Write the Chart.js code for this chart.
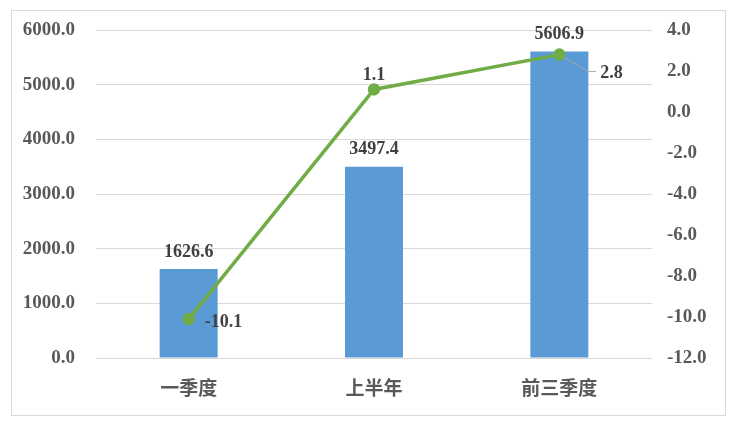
<!DOCTYPE html>
<html>
<head>
<meta charset="utf-8">
<script src="https://cdn.jsdelivr.net/npm/chart.js@4/dist/chart.umd.min.js"></script>
<style>
  html, body { margin: 0; padding: 0; background: #fff; }
  #wrap { width: 739px; height: 427px; position: relative; }
</style>
</head>
<body>
<div id="wrap"><canvas id="c" width="739" height="427"></canvas></div>
<script>
// ------------------
// data
// ------------------
const categories = ["一季度", "上半年", "前三季度"];
const barValues = [1626.6, 3497.4, 5606.9];
const lineValues = [-10.1, 1.1, 2.8];

const serif = "'Liberation Serif', 'Times New Roman', serif";
const cjk = "'Noto Sans CJK SC', sans-serif";

// frame + value labels
const labelPlugin = {
  id: "labels",
  beforeDraw(chart) {
    const ctx = chart.ctx;
    ctx.save();
    ctx.fillStyle = "#fff";
    ctx.fillRect(0, 0, chart.width, chart.height);
    ctx.strokeStyle = "#d9d9d9";
    ctx.lineWidth = 1;
    ctx.strokeRect(11.5, 10.5, 714, 405);
    ctx.restore();
  },
  afterDatasetsDraw(chart) {
    const ctx = chart.ctx;
    ctx.save();
    ctx.font = "bold 18px " + serif;
    ctx.fillStyle = "#404040";
    ctx.textBaseline = "middle";

    const bars = chart.getDatasetMeta(1).data;
    ctx.textAlign = "center";
    bars.forEach((b, i) => {
      ctx.fillText(barValues[i].toFixed(1), b.x, b.y - 17);
    });

    const pts = chart.getDatasetMeta(0).data;
    // first point: right of it
    ctx.textAlign = "left";
    ctx.fillText(lineValues[0].toFixed(1), pts[0].x + 16, pts[0].y + 3);
    // second: above
    ctx.textAlign = "center";
    ctx.fillText(lineValues[1].toFixed(1), pts[1].x, pts[1].y - 14);
    // third: with leader line
    const p = pts[2];
    ctx.strokeStyle = "#a6a6a6";
    ctx.lineWidth = 1;
    ctx.beginPath();
    ctx.moveTo(p.x + 5, p.y + 3);
    ctx.lineTo(p.x + 29, p.y + 17);
    ctx.lineTo(p.x + 37, p.y + 17);
    ctx.stroke();
    ctx.textAlign = "left";
    ctx.fillText(lineValues[2].toFixed(1), p.x + 41, p.y + 19);
    ctx.restore();
  }
};

function fixY(width) {
  return s => { s.width = width; s.paddingTop = 0; s.paddingBottom = 0; };
}

new Chart(document.getElementById("c"), {
  data: {
    labels: categories,
    datasets: [
      {
        type: "line",
        data: lineValues,
        yAxisID: "y1",
        borderColor: "#70ad47",
        backgroundColor: "#70ad47",
        borderWidth: 3.5,
        pointRadius: 4.5,
        pointHoverRadius: 4.5,
        tension: 0,
        order: 0
      },
      {
        type: "bar",
        data: barValues,
        yAxisID: "y",
        backgroundColor: "#5b9bd5",
        barPercentage: 0.626,
        categoryPercentage: 0.5,
        order: 1
      }
    ]
  },
  options: {
    responsive: false,
    animation: false,
    devicePixelRatio: 1,
    layout: { padding: { top: 30, left: 0, right: 0, bottom: 0 } },
    plugins: { legend: { display: false }, tooltip: { enabled: false } },
    scales: {
      x: {
        grid: { display: false, drawTicks: false },
        border: { display: false },
        ticks: { color: "#595959", font: { family: cjk, size: 19, weight: "bold" }, padding: 18 },
        afterFit(s) { s.height = 69; }
      },
      y: {
        position: "left",
        min: 0, max: 6000,
        ticks: {
          stepSize: 1000,
          color: "#595959",
          font: { family: serif, size: 19, weight: "bold" },
          padding: 21,
          callback: v => v.toFixed(1)
        },
        grid: { color: "#d9d9d9", drawTicks: false },
        border: { display: false },
        afterFit: fixY(96)
      },
      y1: {
        position: "right",
        min: -12, max: 4,
        ticks: {
          stepSize: 2,
          color: "#595959",
          font: { family: serif, size: 19, weight: "bold" },
          padding: 15,
          callback: v => v.toFixed(1)
        },
        grid: { display: false, drawTicks: false },
        border: { display: false },
        afterFit: fixY(87)
      }
    }
  },
  plugins: [labelPlugin]
});
</script>
</body>
</html>
